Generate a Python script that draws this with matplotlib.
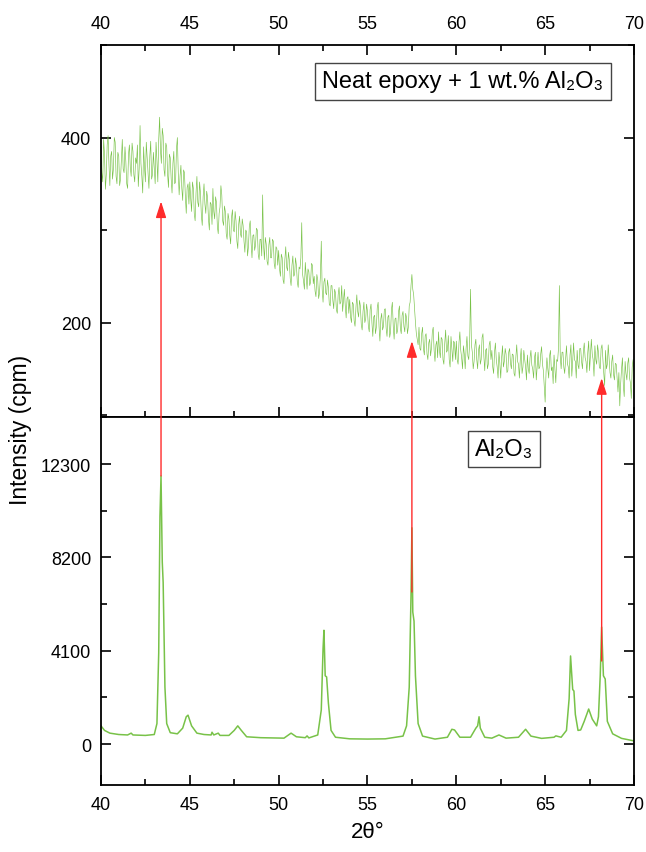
import matplotlib
matplotlib.use("Agg")
import matplotlib.pyplot as plt
from matplotlib.patches import ConnectionPatch
from matplotlib.ticker import MultipleLocator
import numpy as np

plt.rcParams['font.family'] = ['Liberation Sans', 'DejaVu Sans']

# ---- Top panel: Neat epoxy + 1 wt.% Al2O3 (2theta from 40.0 in 0.05 steps) ----
top_start = 40.0
top_step = 0.05
top_counts = [
    390, 362, 352, 398, 381, 344, 360, 392, 402, 371, 348, 380, 385, 355, 366, 400, 395, 358, 350, 384,
    380, 348, 355, 376, 398, 366, 362, 390, 374, 350, 345, 382, 392, 368, 358, 394, 385, 360, 352, 378,
    372, 392, 347, 366, 413, 372, 358, 340, 390, 368, 352, 395, 378, 362, 345, 380, 396, 355, 360, 384,
    368, 350, 395, 375, 352, 398, 422, 386, 372, 410, 402, 365, 358, 394, 390, 360, 346, 382, 378, 356,
    340, 372, 385, 350, 352, 388, 400, 362, 338, 358, 370, 345, 332, 365, 362, 336, 318, 346, 350, 328,
    352, 334, 320, 352, 345, 318, 310, 340, 358, 330, 325, 352, 340, 316, 305, 336, 350, 328, 318, 342,
    335, 312, 300, 330, 328, 306, 345, 320, 312, 336, 330, 304, 296, 318, 325, 348, 338, 310, 305, 326,
    320, 296, 290, 318, 312, 294, 285, 314, 322, 300, 298, 320, 310, 288, 280, 306, 315, 296, 292, 312,
    305, 288, 276, 300, 298, 272, 282, 304, 310, 286, 270, 294, 295, 278, 284, 302, 300, 274, 268, 290,
    290, 272, 338, 284, 268, 292, 285, 266, 262, 284, 292, 270, 270, 290, 288, 264, 258, 282, 280, 262,
    278, 258, 250, 274, 270, 246, 242, 268, 282, 260, 256, 276, 268, 248, 240, 262, 272, 250, 252, 270,
    262, 244, 238, 260, 258, 270, 308, 252, 245, 236, 265, 250, 236, 258, 255, 240, 244, 264, 262, 242,
    250, 234, 228, 252, 246, 226, 232, 250, 288, 236, 222, 244, 248, 232, 230, 246, 238, 220, 218, 240,
    240, 224, 215, 236, 232, 214, 210, 230, 238, 220, 222, 240, 212, 224, 236, 218, 205, 226, 228, 210,
    225, 206, 200, 222, 220, 202, 196, 216, 230, 212, 206, 224, 218, 198, 192, 212, 222, 200, 204, 220,
    212, 196, 190, 214, 220, 200, 185, 206, 208, 188, 195, 216, 222, 196, 180, 204, 210, 192, 196, 214,
    215, 194, 185, 206, 208, 184, 190, 214, 222, 196, 182, 204, 205, 188, 192, 212, 218, 194, 188, 208,
    212, 196, 190, 210, 205, 188, 195, 218, 222, 240, 252, 236, 230, 214, 200, 188, 182, 176, 195, 172,
    170, 188, 195, 172, 165, 186, 188, 166, 160, 178, 182, 164, 172, 190, 195, 170, 158, 176, 180, 162,
    190, 170, 162, 184, 182, 160, 155, 178, 192, 168, 170, 186, 160, 152, 185, 172, 158, 180, 178, 160,
    180, 160, 155, 178, 190, 170, 162, 150, 175, 166, 150, 172, 185, 164, 160, 178, 236, 176, 168, 150,
    158, 176, 182, 160, 150, 170, 176, 155, 160, 184, 188, 164, 148, 170, 172, 150, 155, 176, 180, 160,
    170, 152, 145, 168, 178, 160, 152, 140, 168, 156, 140, 162, 175, 152, 158, 172, 166, 146, 148, 168,
    172, 156, 150, 166, 165, 145, 142, 162, 176, 158, 155, 140, 160, 172, 145, 152, 170, 160, 152, 138,
    165, 150, 145, 162, 170, 154, 150, 140, 162, 168, 138, 152, 168, 150, 152, 166, 174, 155, 148, 132,
    114, 146, 162, 150, 140, 164, 170, 148, 152, 134, 165, 150, 135, 160, 158, 172, 240, 164, 150, 168,
    168, 152, 145, 160, 175, 156, 152, 140, 165, 176, 142, 158, 178, 160, 158, 140, 170, 154, 150, 172,
    172, 158, 150, 168, 178, 162, 158, 146, 168, 180, 148, 164, 182, 166, 160, 142, 175, 160, 155, 176,
    168, 152, 150, 172, 176, 160, 145, 132, 170, 150, 155, 176, 160, 146, 140, 158, 165, 144, 138, 156,
    155, 140, 125, 146, 110, 134, 150, 162, 132, 120, 158, 145, 138, 156, 162, 140, 135, 118, 152, 160,
    148,
]

# ---- Bottom panel: Al2O3 ----
al_2theta = [
    40.0, 40.2, 40.5, 41.0, 41.5, 41.7, 41.8, 42.5, 43.0, 43.15, 43.25, 43.32,
    43.38, 43.45, 43.5, 43.6, 43.7, 43.9, 44.3, 44.6, 44.8, 44.9, 45.1, 45.4,
    45.8, 46.2, 46.25, 46.35, 46.6, 46.7, 47.2, 47.5, 47.7, 47.9, 48.2, 49.0,
    50.3, 50.7, 51.0, 51.5, 51.6, 51.7, 52.2, 52.4, 52.5, 52.55, 52.62, 52.7,
    52.8, 52.95, 53.2, 54.0, 55.0, 56.0, 57.0, 57.2, 57.35, 57.45, 57.5, 57.55,
    57.62, 57.7, 57.85, 58.1, 58.8, 59.5, 59.75, 59.9, 60.2, 60.8, 61.1, 61.2,
    61.28, 61.35, 61.6, 62.0, 62.4, 62.8, 63.5, 63.9, 64.2, 64.8, 65.5, 65.6,
    65.9, 66.2, 66.35, 66.43, 66.55, 66.62, 66.7, 66.85, 67.0, 67.2, 67.45, 67.65,
    67.9, 68.0, 68.1, 68.18, 68.28, 68.38, 68.5, 68.8, 69.3, 70.0,
]
al_counts = [
    800, 600, 480, 420, 400, 480, 400, 380, 420, 900, 4000, 10000,
    11780, 8000, 7100, 2500, 900, 500, 450, 700, 1200, 1270, 800, 480,
    420, 400, 520, 400, 480, 380, 380, 600, 800, 600, 320, 280,
    260, 480, 320, 280, 360, 270, 400, 1500, 4200, 5000, 3000, 2950,
    1800, 600, 300, 230, 220, 230, 350, 800, 2500, 6500, 9500, 5800,
    5400, 3000, 900, 350, 220, 300, 650, 620, 300, 300, 700, 800,
    1200, 700, 300, 260, 400, 260, 300, 650, 350, 250, 300, 360,
    300, 600, 2000, 3870, 2400, 2330, 1300, 600, 620, 1000, 1540, 1100,
    800, 1200, 3000, 5140, 3000, 2860, 1000, 450, 250, 140,
]

# ---- Arrows: (2theta, start in Al2O3 panel, tip in epoxy panel) ----
arrow_2theta = [43.38, 57.5, 68.18]
arrow_start = [11780, 6680, 3650]
arrow_tip = [331, 180, 140]

top_x = top_start + top_step * np.arange(len(top_counts))

GREEN = '#78c248'
RED = '#ff2b2b'

fig = plt.figure(figsize=(6.46, 8.53), dpi=100)
ax1 = fig.add_axes([0.1563, 0.5100, 0.8251, 0.4361])
ax2 = fig.add_axes([0.1563, 0.0785, 0.8251, 0.4315])

ax1.plot(top_x, top_counts, color=GREEN, lw=0.45)
ax2.plot(al_2theta, al_counts, color=GREEN, lw=1.1)

for ax in (ax1, ax2):
    ax.set_xlim(40, 70)
    ax.xaxis.set_major_locator(MultipleLocator(5))
    ax.xaxis.set_minor_locator(MultipleLocator(2.5))
    for s in ax.spines.values():
        s.set_linewidth(1.3)
    ax.tick_params(which='major', direction='in', length=7, width=1.2, labelsize=13)
    ax.tick_params(which='minor', direction='in', length=4, width=1.2)
    ax.tick_params(axis='y', which='major', pad=7)

ax1.set_ylim(98, 500)
ax1.yaxis.set_major_locator(MultipleLocator(200))
ax1.yaxis.set_minor_locator(MultipleLocator(100))
ax1.tick_params(which='both', top=True, bottom=True, left=True, right=True,
                labeltop=True, labelbottom=False)
ax1.tick_params(axis='x', which='major', pad=9)

ax2.set_ylim(-1800, 14370)
ax2.yaxis.set_major_locator(MultipleLocator(4100))
ax2.yaxis.set_minor_locator(MultipleLocator(2050))
ax2.tick_params(which='both', top=False, bottom=True, left=True, right=True,
                labeltop=False, labelbottom=True)
ax2.tick_params(axis='x', which='major', pad=8)

ax2.set_xlabel('2θ°', fontsize=16, labelpad=6)
fig.text(0.031, 0.496, 'Intensity (cpm)', rotation=90, fontsize=16.5,
         ha='center', va='center')

box = dict(boxstyle='square,pad=0.3', facecolor='white', edgecolor='#444444', lw=1.0)
ax1.text(0.679, 0.902, 'Neat epoxy + 1 wt.% Al₂O₃', transform=ax1.transAxes,
         fontsize=17, ha='center', va='center', bbox=box)
ax2.text(0.756, 0.913, 'Al₂O₃', transform=ax2.transAxes,
         fontsize=17, ha='center', va='center', bbox=box)

for x, y0, y1 in zip(arrow_2theta, arrow_start, arrow_tip):
    con = ConnectionPatch(xyA=(x, y0), coordsA=ax2.transData,
                          xyB=(x, y1), coordsB=ax1.transData,
                          arrowstyle='-|>,head_length=1.1,head_width=0.35',
                          mutation_scale=9, color=RED, lw=1.0,
                          shrinkA=0, shrinkB=0, zorder=10)
    fig.add_artist(con)

fig.savefig('out.png', dpi=100)
